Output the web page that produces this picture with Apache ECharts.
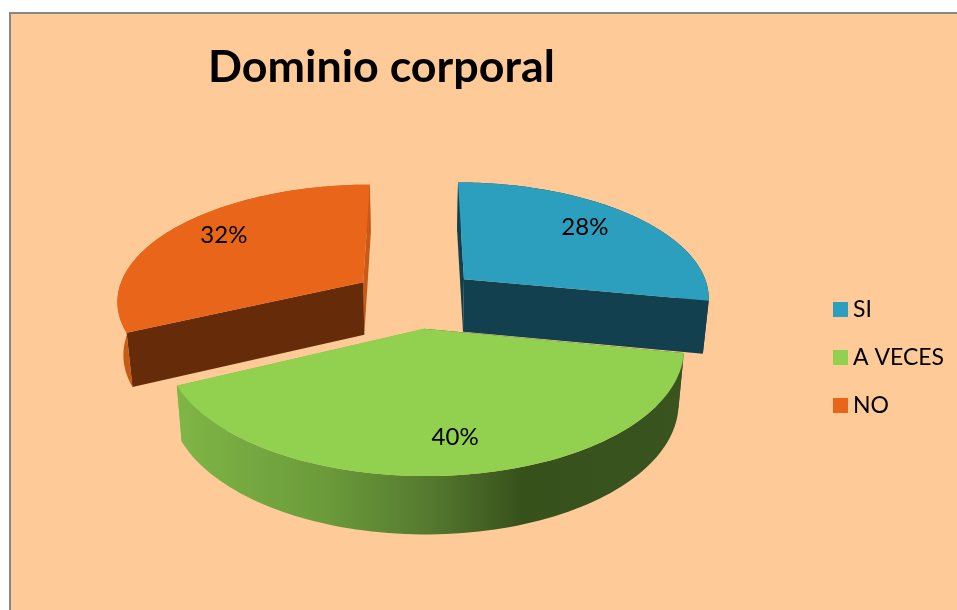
<!DOCTYPE html>
<html><head><meta charset="utf-8">
<style>html,body{margin:0;padding:0;background:#fff}#c{width:957px;height:610px}</style>
<script src="https://cdn.jsdelivr.net/npm/echarts@6/dist/echarts.min.js"></script>
</head><body><div id="c"></div>
<script>
const titleText = 'Dominio corporal';
const categories = ['SI', 'A VECES', 'NO'];
const values = [28, 40, 32];

const topColors = ['#2C9FBF', '#92D050', '#E9651A'];
const startWall = ['#13404F', '#3A5420', '#662B09'];
const endWall = ['#13404F', '#7FB646', '#C75A17'];
const outerWall = ['#13404F', null, '#C75A17'];
const seriesZ = [3, 2, 2];
const labelNudge = [[-5, -3], [3, 5], [1, -5]];

// Geometry of the tilted, exploded pie (perspective projection of a unit circle)
const cx = 416, cy = 298, rx = 247, ry = 116, persp = 0.145, explode = 0.258, depth = 53, shrinkX = 0.98, shrinkY = 0.985;
const total = values.reduce((s, v) => s + v, 0);

function project(u, v, low) {
  const w = 1 / (1 - persp * v);
  return [cx + rx * u * w * (low ? shrinkX : 1),
          cy + ry * v * w * (low ? shrinkY : 1) + (low ? depth * Math.pow(w, 0.7) : 0)];
}
function renderSlice(index, value) {
  const before = values.slice(0, index).reduce((s, v) => s + v, 0);
  const a0 = before / total * 2 * Math.PI;
  const a1 = a0 + value / total * 2 * Math.PI;
  const mid = (a0 + a1) / 2;
  const ox = explode * Math.sin(mid), oy = -explode * Math.cos(mid);
  const rim = [];
  const steps = 90;
  for (let i = 0; i <= steps; i++) {
    const t = a0 + (a1 - a0) * i / steps;
    rim.push([ox + Math.sin(t), oy - Math.cos(t)]);
  }
  const up = rim.map(p => project(p[0], p[1], false));
  const low = rim.map(p => project(p[0], p[1], true));
  const apexUp = project(ox, oy, false), apexLow = project(ox, oy, true);
  const wallFill = outerWall[index] || new echarts.graphic.LinearGradient(0, 0, 1, 0, [
    { offset: 0, color: '#7FB646' }, { offset: 0.3, color: '#6A9A3A' },
    { offset: 0.5, color: '#55792F' }, { offset: 0.68, color: '#37511B' },
    { offset: 1, color: '#3A5420' }]);
  const poly = (points, fill) => ({ type: 'polygon', shape: { points }, style: { fill } });
  const lr = 0.74;
  const lab = project(ox + lr * Math.sin(mid), oy - lr * Math.cos(mid), false);
  return {
    type: 'group',
    children: [
      poly([apexUp, up[up.length - 1], low[low.length - 1], apexLow], endWall[index]),
      poly([apexUp, up[0], low[0], apexLow], startWall[index]),
      poly(up.concat(low.slice().reverse()), wallFill),
      poly([apexUp].concat(up), topColors[index]),
      { type: 'text', style: { x: lab[0] + labelNudge[index][0], y: lab[1] + labelNudge[index][1],
          text: Math.round(value / total * 100) + '%',
          fill: '#000', font: '24px Lato', align: 'center', verticalAlign: 'middle' } }
    ]
  };
}

const chart = echarts.init(document.getElementById('c'), null, { renderer: 'canvas' });
chart.setOption({
  animation: false,
  backgroundColor: '#fff',
  graphic: [{ type: 'rect', z: -10, shape: { x: 10, y: 13, width: 960, height: 610 },
    style: { fill: '#FECA97', stroke: '#868686', lineWidth: 2 } }],
  title: { text: titleText, left: 203, top: 40,
    textStyle: { fontFamily: 'Lato', fontWeight: 'bold', fontSize: 44.8, color: '#000' } },
  legend: {
    orient: 'vertical', left: 828, top: 293, itemWidth: 15, itemHeight: 15, itemGap: 25,
    icon: 'rect', data: categories, selectedMode: false,
    textStyle: { fontFamily: 'Lato', fontSize: 23, color: '#000' }
  },
  series: categories.map((name, i) => ({
    type: 'custom', name, coordinateSystem: 'none', z: seriesZ[i], silent: true,
    itemStyle: { color: topColors[i] },
    data: [values[i]],
    renderItem: (params, api) => renderSlice(i, api.value(0))
  }))
});
</script></body></html>
